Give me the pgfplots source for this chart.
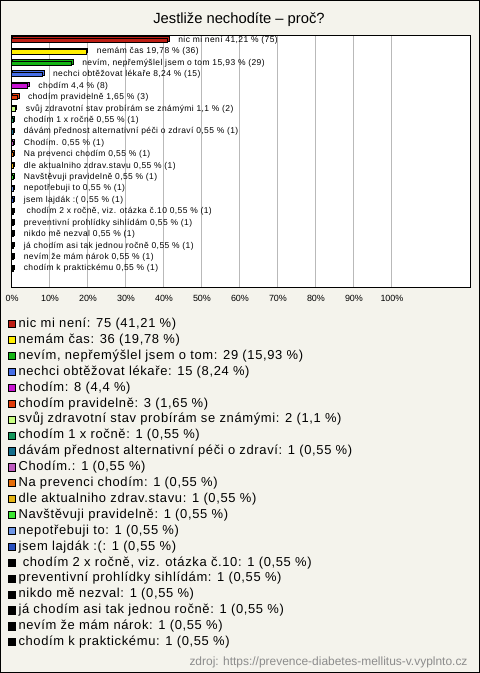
\documentclass[border=0pt]{standalone}
\usepackage{pgfplots}
\pgfplotsset{compat=1.18}
\usepackage{fontspec}
\setmainfont{Liberation Sans}
\newfontfamily\lsfont[LetterSpace=5]{Liberation Sans}
\definecolor{bg}{RGB}{244,243,236}
\definecolor{gridgray}{RGB}{185,185,185}
\definecolor{srcgray}{RGB}{140,140,140}
\definecolor{c1}{RGB}{190,30,20}
\definecolor{c2}{RGB}{255,238,0}
\definecolor{c3}{RGB}{20,180,20}
\definecolor{c4}{RGB}{70,110,230}
\definecolor{c5}{RGB}{200,20,210}
\definecolor{c6}{RGB}{225,60,10}
\definecolor{c7}{RGB}{200,255,130}
\definecolor{c8}{RGB}{20,150,90}
\definecolor{c9}{RGB}{20,110,140}
\definecolor{c10}{RGB}{190,90,190}
\definecolor{c11}{RGB}{230,110,10}
\definecolor{c12}{RGB}{230,180,20}
\definecolor{c13}{RGB}{60,230,50}
\definecolor{c14}{RGB}{110,150,230}
\definecolor{c15}{RGB}{40,80,190}
\definecolor{c16}{RGB}{0,0,0}
\pgfplotsset{
  sqlegend/.style={legend image code/.code={\draw[##1,draw=black,line width=0.6bp] (0bp,-3.6bp) rectangle (7.4bp,3.6bp);}},
  back/.style={fill=#1, draw=black, line width=0.5bp, xshift=1.5bp, yshift=1.5bp, forget plot},
  front/.style={fill=#1, draw=black, line width=0.5bp, sqlegend, nodes near coords, point meta=explicit symbolic},
}
\begin{document}
\begin{tikzpicture}
\path[use as bounding box] (0,0) rectangle (480bp,-673bp);
\fill[bg] (0,0) rectangle (480bp,-673bp);
\draw[black, line width=1bp] (0.5bp,-0.5bp) rectangle (479.5bp,-672.5bp);
\node[font=\fontsize{14.8}{16}\selectfont] at (239bp,-20bp) {Jestliže nechodíte – proč?};
\begin{axis}[
  at={(11bp,-287bp)}, anchor=south west,
  scale only axis, width=459bp, height=252bp,
  xbar, bar width=4.5bp, bar shift=0pt,
  xmin=0, xmax=120.8,
  ymin=-0.45, ymax=21.6, y dir=reverse,
  ytick=\empty,
  xtick={0,10,...,100},
  xticklabel={\pgfmathprintnumber{\tick}\%},
  xmajorgrids, major grid style={draw=gridgray, line width=0.6bp},
  major tick length=0pt,
  axis line style={black, line width=0.8bp},
  axis background/.style={fill=white},
  tick label style={font=\fontsize{9}{10}\selectfont, text=black},
  xticklabel style={yshift=-5bp, xshift=1bp},
  /pgf/number format/assume math mode=true,
  every node near coord/.append style={font=\lsfont\fontsize{8.5}{10}\selectfont, anchor=west, inner sep=1bp, xshift=9.5bp, text=black},
  clip=false,
  legend cell align=left,
  legend style={at={(-0.0065,-0.123)}, anchor=north west, draw=none, fill=none,
    inner sep=0pt, outer sep=0pt, row sep=3.7bp, column sep=2.5bp,
    font=\lsfont\fontsize{13}{15}\selectfont,
    nodes={inner sep=0pt, text height=9.5bp, text depth=2.7bp}},
]
\addplot[back=c1] coordinates {(41.21,0)};
\addplot[front=c1] coordinates {(41.21,0) [nic mi není 41,21 \% (75)]};
\addlegendentry{nic mi není: 75 (41,21 \%)}
\addplot[back=c2] coordinates {(19.78,1)};
\addplot[front=c2] coordinates {(19.78,1) [nemám čas 19,78 \% (36)]};
\addlegendentry{nemám čas: 36 (19,78 \%)}
\addplot[back=c3] coordinates {(15.93,2)};
\addplot[front=c3] coordinates {(15.93,2) [nevím, nepřemýšlel jsem o tom 15,93 \% (29)]};
\addlegendentry{nevím, nepřemýšlel jsem o tom: 29 (15,93 \%)}
\addplot[back=c4] coordinates {(8.24,3)};
\addplot[front=c4] coordinates {(8.24,3) [nechci obtěžovat lékaře 8,24 \% (15)]};
\addlegendentry{nechci obtěžovat lékaře: 15 (8,24 \%)}
\addplot[back=c5] coordinates {(4.4,4)};
\addplot[front=c5] coordinates {(4.4,4) [chodím 4,4 \% (8)]};
\addlegendentry{chodím: 8 (4,4 \%)}
\addplot[back=c6] coordinates {(1.65,5)};
\addplot[front=c6] coordinates {(1.65,5) [chodím pravidelně 1,65 \% (3)]};
\addlegendentry{chodím pravidelně: 3 (1,65 \%)}
\addplot[back=c7] coordinates {(1.1,6)};
\addplot[front=c7] coordinates {(1.1,6) [svůj zdravotní stav probírám se známými 1,1 \% (2)]};
\addlegendentry{svůj zdravotní stav probírám se známými: 2 (1,1 \%)}
\addplot[back=c8] coordinates {(0.55,7)};
\addplot[front=c8] coordinates {(0.55,7) [chodím 1 x ročně 0,55 \% (1)]};
\addlegendentry{chodím 1 x ročně: 1 (0,55 \%)}
\addplot[back=c9] coordinates {(0.55,8)};
\addplot[front=c9] coordinates {(0.55,8) [dávám přednost alternativní péči o zdraví 0,55 \% (1)]};
\addlegendentry{dávám přednost alternativní péči o zdraví: 1 (0,55 \%)}
\addplot[back=c10] coordinates {(0.55,9)};
\addplot[front=c10] coordinates {(0.55,9) [Chodím. 0,55 \% (1)]};
\addlegendentry{Chodím.: 1 (0,55 \%)}
\addplot[back=c11] coordinates {(0.55,10)};
\addplot[front=c11] coordinates {(0.55,10) [Na prevenci chodím 0,55 \% (1)]};
\addlegendentry{Na prevenci chodím: 1 (0,55 \%)}
\addplot[back=c12] coordinates {(0.55,11)};
\addplot[front=c12] coordinates {(0.55,11) [dle aktualniho zdrav.stavu 0,55 \% (1)]};
\addlegendentry{dle aktualniho zdrav.stavu: 1 (0,55 \%)}
\addplot[back=c13] coordinates {(0.55,12)};
\addplot[front=c13] coordinates {(0.55,12) [Navštěvuji pravidelně 0,55 \% (1)]};
\addlegendentry{Navštěvuji pravidelně: 1 (0,55 \%)}
\addplot[back=c14] coordinates {(0.55,13)};
\addplot[front=c14] coordinates {(0.55,13) [nepotřebuji to 0,55 \% (1)]};
\addlegendentry{nepotřebuji to: 1 (0,55 \%)}
\addplot[back=c15] coordinates {(0.55,14)};
\addplot[front=c15] coordinates {(0.55,14) [jsem lajdák :( 0,55 \% (1)]};
\addlegendentry{jsem lajdák :(: 1 (0,55 \%)}
\addplot[back=c16] coordinates {(0.55,15)};
\addplot[front=c16] coordinates {(0.55,15) [\ chodím 2 x ročně, viz. otázka č.10 0,55 \% (1)]};
\addlegendentry{\ chodím 2 x ročně, viz. otázka č.10: 1 (0,55 \%)}
\addplot[back=c16] coordinates {(0.55,16)};
\addplot[front=c16] coordinates {(0.55,16) [preventivní prohlídky sihlídám 0,55 \% (1)]};
\addlegendentry{preventivní prohlídky sihlídám: 1 (0,55 \%)}
\addplot[back=c16] coordinates {(0.55,17)};
\addplot[front=c16] coordinates {(0.55,17) [nikdo mě nezval 0,55 \% (1)]};
\addlegendentry{nikdo mě nezval: 1 (0,55 \%)}
\addplot[back=c16] coordinates {(0.55,18)};
\addplot[front=c16] coordinates {(0.55,18) [já chodím asi tak jednou ročně 0,55 \% (1)]};
\addlegendentry{já chodím asi tak jednou ročně: 1 (0,55 \%)}
\addplot[back=c16] coordinates {(0.55,19)};
\addplot[front=c16] coordinates {(0.55,19) [nevím že mám nárok 0,55 \% (1)]};
\addlegendentry{nevím že mám nárok: 1 (0,55 \%)}
\addplot[back=c16] coordinates {(0.55,20)};
\addplot[front=c16] coordinates {(0.55,20) [chodím k praktickému 0,55 \% (1)]};
\addlegendentry{chodím k praktickému: 1 (0,55 \%)}
\end{axis}
\node[anchor=east, text=srcgray, font=\fontsize{12}{14}\selectfont] at (471bp,-662bp) {zdroj: https://prevence-diabetes-mellitus-v.vyplnto.cz};
\end{tikzpicture}
\end{document}
